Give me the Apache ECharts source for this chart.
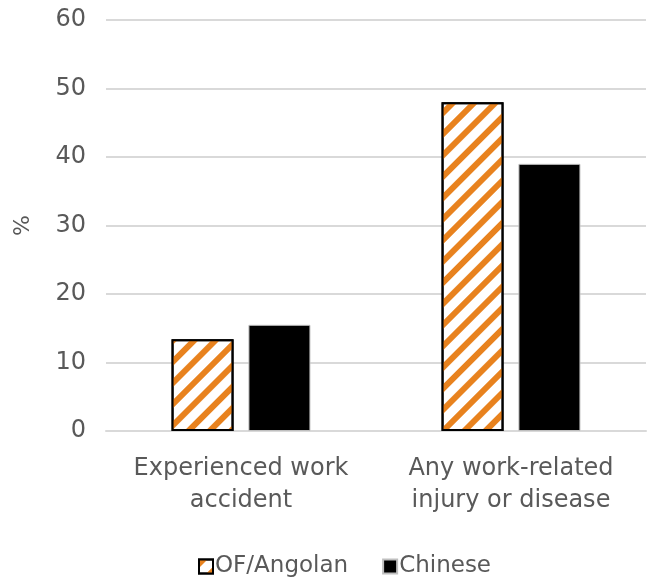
<!DOCTYPE html>
<html>
<head>
<meta charset="UTF-8">
<title>Work accidents</title>
<style>
    html, body { margin: 0; padding: 0; background: #fff; }
    #main { width: 648px; height: 583px; }
</style>
</head>
<body>
<div id="main"></div>
<script src="https://cdn.jsdelivr.net/npm/echarts@6/dist/echarts.min.js"></script>
<script>
    var categories = ['Experienced work\naccident', 'Any work-related\ninjury or disease'];
    var angolanValues = [13.4, 48.0];
    var chineseValues = [15.5, 39.0];
    var seriesNames = ['OF/Angolan', 'Chinese'];

    var myChart = echarts.init(document.getElementById('main'));
    var textColor = '#595959';
    var fontFamily = '"DejaVu Sans", sans-serif';

    var option = {
        animation: false,
        grid: { left: 106, right: 2, top: 20, bottom: 152 },
        legend: {
            data: seriesNames,
            bottom: 0,
            left: 193,
            icon: 'rect',
            itemWidth: 14,
            itemHeight: 14,
            itemGap: 34,
            textStyle: { fontFamily: fontFamily, fontSize: 23, color: textColor, padding: [0, 0, 0, -3] }
        },
        xAxis: {
            type: 'category',
            data: categories,
            axisLine: { lineStyle: { color: '#d9d9d9', width: 2 } },
            axisTick: { show: false },
            axisLabel: { interval: 0, fontFamily: fontFamily, fontSize: 24, color: textColor, margin: 22, lineHeight: 32 }
        },
        yAxis: {
            type: 'value',
            min: 0,
            max: 60,
            interval: 10,
            name: '%',
            nameLocation: 'middle',
            nameGap: 72,
            nameRotate: 90,
            nameTextStyle: { fontFamily: fontFamily, fontSize: 22, color: textColor },
            splitLine: { lineStyle: { color: '#d9d9d9', width: 2 } },
            axisLabel: { fontFamily: fontFamily, fontSize: 24, color: textColor, margin: 20 }
        },
        series: [
            {
                name: seriesNames[0],
                type: 'bar',
                data: angolanValues,
                barWidth: 62,
                barGap: '24%',
                itemStyle: {
                    color: '#ffffff',
                    borderColor: '#000000',
                    borderWidth: 2,
                    decal: {
                        symbol: 'rect',
                        symbolSize: 1,
                        color: '#E8821E',
                        dashArrayX: [1, 0],
                        dashArrayY: [6, 9],
                        rotation: -Math.PI / 4
                    }
                }
            },
            {
                name: seriesNames[1],
                type: 'bar',
                data: chineseValues,
                barWidth: 62,
                itemStyle: { color: '#000000', borderColor: '#bfbfbf', borderWidth: 1 }
            }
        ]
    };
    myChart.setOption(option);
</script>
</body>
</html>
